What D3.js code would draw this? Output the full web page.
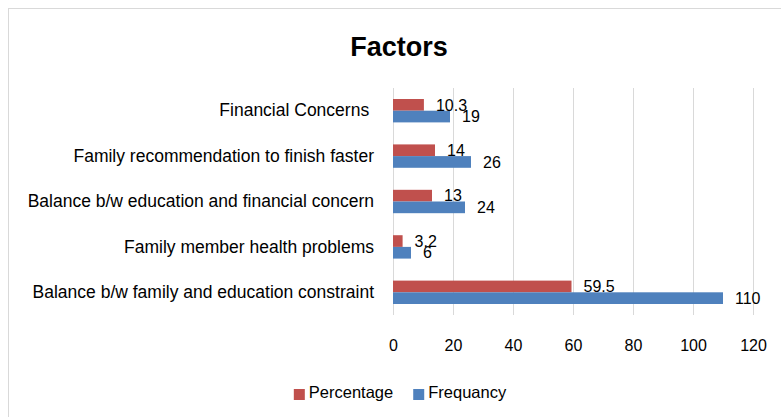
<!DOCTYPE html>
<html>
<head>
<meta charset="utf-8">
<script src="https://cdn.jsdelivr.net/npm/d3@7"></script>
<style>
  body { margin: 0; background: #fff; }
  svg { display: block; font-family: 'Liberation Sans', Arial, sans-serif; }
  .cat-label { font-size: 17.5px; fill: #000; white-space: pre; }
  .tick-label { font-size: 16px; fill: #000; }
  .value-label { font-size: 16px; fill: #000; }
  .legend-text { font-size: 16.5px; fill: #000; }
  .chart-title { font-size: 27px; font-weight: bold; fill: #000; }
</style>
</head>
<body>
<div id="chart"></div>
<script>
const categories = [
  'Financial Concerns ',
  'Family recommendation to finish faster',
  'Balance b/w education and financial concern',
  'Family member health problems',
  'Balance b/w family and education constraint'
];
const percentage = [10.3, 14, 13, 3.2, 59.5];
const frequency = [19, 26, 24, 6, 110];
const xTicks = [0, 20, 40, 60, 80, 100, 120];
const seriesNames = ['Percentage', 'Frequancy'];

const W = 781, H = 417;
const plot = { left: 393, right: 753, top: 88, bottom: 315 };
const red = '#c0504d';
const blue = '#4f81bd';
const gridColor = '#d9d9d9';

const svg = d3.select('#chart').append('svg')
  .attr('width', W)
  .attr('height', H);

// chart area border
svg.append('rect')
  .attr('x', 8.5)
  .attr('y', 8.5)
  .attr('width', W + 10)
  .attr('height', H + 10)
  .attr('fill', '#fff')
  .attr('stroke', gridColor);

svg.append('text')
  .attr('class', 'chart-title')
  .attr('x', 399)
  .attr('y', 56)
  .attr('text-anchor', 'middle')
  .text('Factors');

const xScale = d3.scaleLinear()
  .domain([0, 120])
  .range([plot.left, plot.right]);

const yScale = d3.scaleBand()
  .domain(categories)
  .range([plot.top, plot.bottom])
  .paddingInner(0.485)
  .paddingOuter(0.2425);

const sub = d3.scaleBand()
  .domain(seriesNames)
  .range([0, yScale.bandwidth()]);

// x axis with gridlines
const xAxis = d3.axisBottom(xScale)
  .tickValues(xTicks)
  .tickSizeInner(-(plot.bottom - plot.top))
  .tickSizeOuter(0)
  .tickPadding(25);

const gx = svg.append('g')
  .attr('transform', 'translate(0,' + plot.bottom + ')')
  .call(xAxis);
gx.select('.domain').remove();
gx.selectAll('.tick line')
  .attr('stroke', gridColor)
  .attr('stroke-width', 1);
gx.selectAll('.tick text')
  .attr('class', 'tick-label')
  .attr('font-family', null)
  .attr('font-size', null);

// category labels
const yAxis = d3.axisLeft(yScale)
  .tickSize(0)
  .tickPadding(19);

const gy = svg.append('g')
  .attr('transform', 'translate(' + plot.left + ',0)')
  .call(yAxis);
gy.select('.domain').remove();
gy.selectAll('.tick text')
  .attr('class', 'cat-label')
  .attr('font-family', null)
  .attr('font-size', null);

const rows = categories.map((c, i) => ({
  cat: c,
  values: [
    { name: 'Percentage', value: percentage[i], color: red },
    { name: 'Frequancy', value: frequency[i], color: blue }
  ]
}));

const groups = svg.append('g')
  .selectAll('g.row')
  .data(rows)
  .enter().append('g')
  .attr('class', 'row')
  .attr('transform', d => 'translate(0,' + yScale(d.cat) + ')');

groups.selectAll('rect')
  .data(d => d.values)
  .enter().append('rect')
  .attr('x', xScale(0))
  .attr('y', d => sub(d.name))
  .attr('width', d => xScale(d.value) - xScale(0))
  .attr('height', sub.bandwidth())
  .attr('fill', d => d.color);

groups.selectAll('text.value-label')
  .data(d => d.values)
  .enter().append('text')
  .attr('class', 'value-label')
  .attr('x', d => xScale(d.value) + 12)
  .attr('y', d => sub(d.name) + sub.bandwidth() / 2)
  .attr('dy', '0.36em')
  .text(d => d.value);

// legend
const legend = svg.append('g')
  .attr('class', 'legend');
const legendColors = [red, blue];
let lx = 0;
const items = [];
seriesNames.forEach((name, i) => {
  const item = legend.append('g').attr('transform', 'translate(' + lx + ',0)');
  item.append('rect')
    .attr('x', 0)
    .attr('y', 389)
    .attr('width', 11)
    .attr('height', 11)
    .attr('fill', legendColors[i]);
  const t = item.append('text')
    .attr('class', 'legend-text')
    .attr('x', 15)
    .attr('y', 398)
    .text(name);
  lx += 15 + t.node().getComputedTextLength() + 20;
});
const legendWidth = lx - 20;
legend.attr('transform', 'translate(' + (400 - legendWidth / 2) + ',0)');
</script>
</body>
</html>
